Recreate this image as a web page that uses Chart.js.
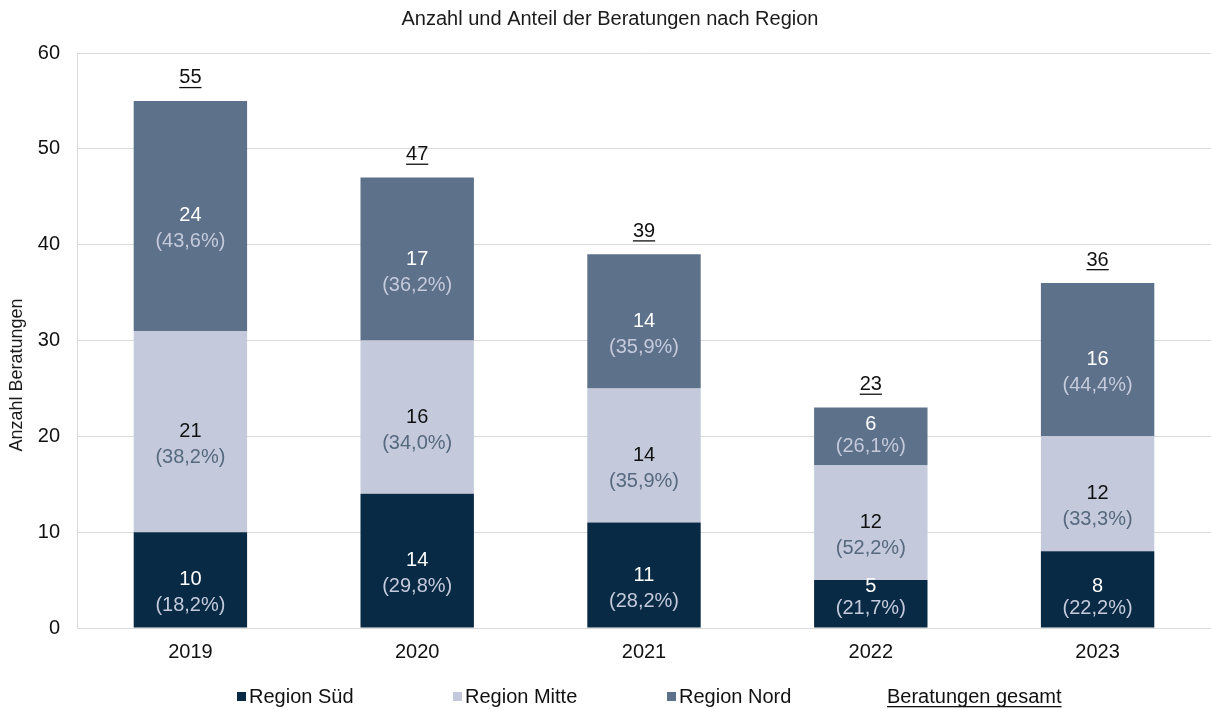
<!DOCTYPE html>
<html>
<head>
<meta charset="utf-8">
<script src="https://cdn.jsdelivr.net/npm/chart.js"></script>
<style>
  * { margin: 0; padding: 0; box-sizing: border-box; }
  body { background: #fff; width: 1211px; height: 709px; overflow: hidden; }
  .wrap { position: relative; width: 1211px; height: 709px; }
</style>
</head>
<body>
<div class="wrap"><canvas id="chart"></canvas></div>
<script>
  // data
  const years = ['2019', '2020', '2021', '2022', '2023'];
  const sued = [10, 14, 11, 5, 8];
  const mitte = [21, 16, 14, 12, 12];
  const nord = [24, 17, 14, 6, 16];
  const yTicks = [0, 10, 20, 30, 40, 50, 60];

  const FONT = "'Liberation Sans', Arial, sans-serif";
  const totals = years.map((y, i) => sued[i] + mitte[i] + nord[i]);
  const pct = (v, i) => '(' + (v / totals[i] * 100).toFixed(1).replace('.', ',') + '%)';

  const styles = [
    { fill: '#082a45', val: '#ffffff', pct: '#c4cadb' },
    { fill: '#c4cadb', val: '#111111', pct: '#56697f' },
    { fill: '#5d718b', val: '#ffffff', pct: '#c4cadb' }
  ];

  // labels, totals, title, legend
  const labelPlugin = {
    id: 'labels',
    afterDatasetsDraw(chart) {
      const ctx = chart.ctx;
      ctx.save();
      ctx.font = '20px ' + FONT;
      ctx.textAlign = 'center';
      ctx.textBaseline = 'middle';
      chart.data.datasets.forEach((ds, d) => {
        chart.getDatasetMeta(d).data.forEach((bar, i) => {
          const top = bar.y, bottom = bar.base;
          const h = bottom - top;
          const c = (top + bottom) / 2;
          const gap = h < 80 ? 22 : 26;
          const py = Math.min(c + gap, bottom - 19);
          ctx.fillStyle = styles[d].val;
          ctx.fillText(ds.data[i], bar.x, py - gap);
          ctx.fillStyle = styles[d].pct;
          ctx.fillText(pct(ds.data[i], i), bar.x, py);
        });
      });
      // totals
      const meta = chart.getDatasetMeta(2);
      ctx.fillStyle = '#111';
      meta.data.forEach((bar, i) => {
        const t = String(totals[i]);
        const y = bar.y - 23;
        ctx.fillText(t, bar.x, y);
        const w = ctx.measureText(t).width;
        ctx.fillRect(bar.x - w / 2, y + 9, w, 1.3);
      });
      ctx.restore();
    },
    afterDraw(chart) {
      const ctx = chart.ctx;
      ctx.save();
      ctx.textBaseline = 'middle';
      // title
      ctx.font = '20px ' + FONT;
      ctx.fillStyle = '#1a1a1a';
      ctx.textAlign = 'center';
      ctx.fillText('Anzahl und Anteil der Beratungen nach Region', 610, 19);
      // y title
      ctx.save();
      ctx.translate(17, 375);
      ctx.rotate(-Math.PI / 2);
      ctx.font = '18px ' + FONT;
      ctx.fillText('Anzahl Beratungen', 0, 0);
      ctx.restore();
      // legend
      ctx.font = '20px ' + FONT;
      ctx.textAlign = 'left';
      const items = [
        { name: 'Region Süd', x: 249 },
        { name: 'Region Mitte', x: 465 },
        { name: 'Region Nord', x: 679 }
      ];
      items.forEach((it, k) => {
        ctx.fillStyle = styles[k].fill;
        ctx.fillRect(it.x - 12, 692, 9, 9);
        ctx.fillStyle = '#111';
        ctx.fillText(it.name, it.x, 697);
      });
      const g = 'Beratungen gesamt';
      ctx.fillText(g, 887, 697);
      const w = ctx.measureText(g).width;
      ctx.fillRect(887, 706, w, 1.3);
      ctx.restore();
    }
  };

  const names = ['Region Süd', 'Region Mitte', 'Region Nord'];
  const series = [sued, mitte, nord];

  new Chart(document.getElementById('chart'), {
    type: 'bar',
    data: {
      labels: years,
      datasets: series.map((s, k) => ({
        label: names[k],
        data: s,
        backgroundColor: styles[k].fill,
        borderWidth: 0,
        barPercentage: 1,
        categoryPercentage: 0.5
      }))
    },
    options: {
      responsive: true,
      maintainAspectRatio: false,
      animation: false,
      layout: { padding: { top: 53, right: 0, bottom: 0, left: 0 } },
      plugins: {
        legend: { display: false },
        title: { display: false },
        tooltip: { enabled: false }
      },
      scales: {
        x: {
          stacked: true,
          grid: { display: false, drawTicks: false },
          border: { color: '#d9d9d9' },
          ticks: { color: '#111', font: { family: FONT, size: 20 }, padding: 12 },
          afterFit(scale) { scale.height = 81; }
        },
        y: {
          stacked: true,
          min: 0,
          max: 60,
          afterBuildTicks(scale) { scale.ticks = yTicks.map(v => ({ value: v })); },
          grid: { color: '#d9d9d9', drawTicks: false },
          border: { color: '#d9d9d9' },
          ticks: { color: '#111', font: { family: FONT, size: 20 }, padding: 17 },
          afterFit(scale) { scale.width = 77; }
        }
      }
    },
    plugins: [labelPlugin]
  });
</script>
</body>
</html>
